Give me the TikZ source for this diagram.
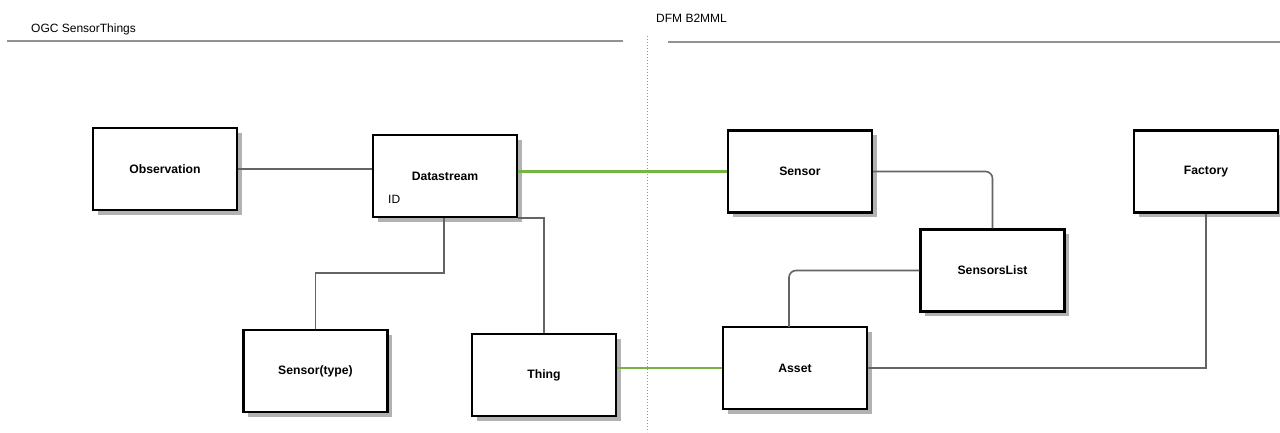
\documentclass[tikz,border=0pt]{standalone}
\usepackage{fontspec}
\setmainfont{Liberation Sans}
\usetikzlibrary{shadows}

\definecolor{linkgray}{RGB}{100,100,100}
\definecolor{rulegray}{RGB}{145,145,145}
\definecolor{mapgreen}{RGB}{118,180,68}
\definecolor{shadowgray}{RGB}{178,178,178}

\tikzset{
  entity/.style={draw=black, line width=2.2pt, fill=white,
    minimum width=144pt, minimum height=82pt, inner sep=0pt,
    font=\fontsize{12.2}{14}\selectfont\bfseries,
    drop shadow={shadow xshift=4.5pt, shadow yshift=-4.5pt,
      fill=shadowgray, opacity=1}},
  link/.style={draw=linkgray, line width=1.6pt},
  softlink/.style={link, rounded corners=7pt},
  mapping/.style={draw=mapgreen, line width=2.4pt},
  header/.style={font=\fontsize{12}{14}\selectfont, anchor=west, inner sep=0pt},
  headrule/.style={draw=rulegray, line width=2.6pt},
  divider/.style={draw=rulegray, line width=1pt, dotted}
}

\begin{document}
\begin{tikzpicture}[x=1pt, y=-1pt]
  \useasboundingbox[fill=white] (0,0) rectangle (1280,432);

  % section headings and separators
  \node[header] (ogc) at (31,29) {OGC SensorThings};
  \node[header] (dfm) at (656,18) {DFM B2MML};
  \coordinate (ruleLa) at (7,41);
  \coordinate (ruleLb) at (623,41);
  \coordinate (ruleRa) at (668,42);
  \coordinate (ruleRb) at (1280,42);
  \coordinate (divTop) at (647,36);
  \coordinate (divBot) at (647,432);
  \draw[headrule] (ruleLa) -- (ruleLb);
  \draw[headrule] (ruleRa) -- (ruleRb);
  \draw[divider] (divTop) -- (divBot);

  % OGC SensorThings entities
  \node[entity] (obs)   at (165,169)   {Observation};
  \node[entity] (ds)    at (445,176)   {Datastream};
  \node[entity] (stype) at (315.5,371) {Sensor(type)};
  \node[entity] (thing) at (544,375)   {Thing};
  \node[font=\fontsize{12}{14}\selectfont, anchor=west, inner sep=0pt]
    (dsid) at (388,199) {ID};

  % DFM B2MML entities
  \node[entity] (sensor)  at (800,171.5)   {Sensor};
  \node[entity] (factory) at (1206,171.5)  {Factory};
  \node[entity] (slist)   at (992.5,270.5) {SensorsList};
  \node[entity] (asset)   at (795,368)     {Asset};

  % relations inside each model
  \draw[link] (obs.east) -- (obs.east -| ds.west);
  \coordinate (dsDrop) at (444,273);
  \draw[link] (ds.south -| dsDrop) -- (dsDrop) -| (stype.north);
  \draw[link] (ds.south east) -| (thing.north);
  \draw[softlink] (sensor.east) -| (slist.north);
  \coordinate (assetTop) at (789,327);
  \draw[softlink] (slist.west) -| (assetTop);
  \draw[link] (asset.east) -| (factory.south);

  % mappings between the two models
  \draw[mapping] (ds.east |- sensor.west) -- (sensor.west);
  \draw[mapping] (thing.east |- asset.west) -- (asset.west);
\end{tikzpicture}
\end{document}
